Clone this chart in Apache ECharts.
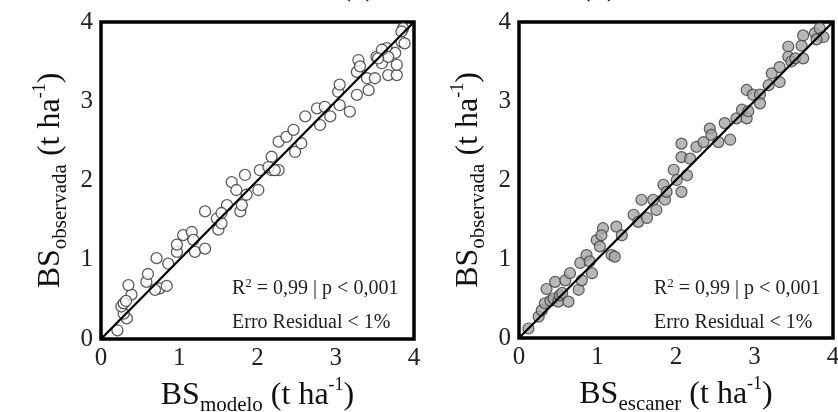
<!DOCTYPE html>
<html>
<head>
<meta charset="utf-8">
<script src="https://cdn.jsdelivr.net/npm/echarts@6/dist/echarts.min.js"></script>
<style>
  html, body { margin: 0; padding: 0; background: #fff; }
  #chart { width: 838px; height: 412px; }
</style>
</head>
<body>
<div id="chart"></div>
<script>
// painel (a): BS observada x BS modelo
var modeloX = [0.21,0.33,0.29,0.26,0.29,0.39,0.35,0.32,0.58,0.60,0.71,0.75,0.84,0.69,0.86,0.97,0.97,1.05,1.16,1.18,1.20,1.33,1.33,1.50,1.48,1.54,1.61,1.78,1.80,1.54,1.67,1.73,1.86,1.84,2.01,2.03,2.18,2.18,2.27,2.27,2.37,2.14,2.22,2.46,2.48,2.56,2.61,2.76,2.80,2.86,2.93,3.05,3.18,3.03,3.05,3.27,3.42,3.40,3.50,3.27,3.29,3.31,3.52,3.59,3.65,3.67,3.78,3.78,3.76,3.67,3.84,3.88,3.86,3.84,3.59,3.54];
var modeloY = [0.11,0.26,0.32,0.41,0.45,0.56,0.68,0.48,0.72,0.82,1.02,0.64,0.67,0.62,0.95,1.10,1.19,1.31,1.35,1.25,1.10,1.14,1.61,1.38,1.52,1.46,1.69,1.61,1.69,1.59,1.98,1.88,1.82,2.07,1.88,2.13,2.30,2.13,2.13,2.49,2.55,2.17,2.13,2.64,2.36,2.47,2.81,2.91,2.70,2.93,2.81,2.95,2.87,3.12,3.21,3.08,3.14,3.29,3.29,3.37,3.52,3.44,3.56,3.48,3.67,3.33,3.33,3.46,3.61,3.56,3.75,3.73,3.92,3.88,3.65,3.54];

// painel (b): BS observada x BS escaner
var escanerX = [0.12,0.25,0.29,0.33,0.35,0.40,0.44,0.46,0.50,0.52,0.55,0.63,0.59,0.65,0.76,0.78,0.80,0.86,0.90,0.93,0.99,1.03,1.07,1.05,1.18,1.22,1.24,1.31,1.46,1.52,1.63,1.75,1.86,1.56,1.71,1.84,1.88,1.97,2.01,2.07,2.14,2.07,2.18,2.07,2.26,2.35,2.43,2.45,2.54,2.62,2.69,2.77,2.84,2.90,2.92,2.90,2.98,3.07,3.07,3.18,3.22,3.32,3.32,3.43,3.43,3.47,3.52,3.62,3.60,3.62,3.77,3.83,3.88,3.79];
var escanerY = [0.12,0.27,0.35,0.44,0.62,0.47,0.50,0.71,0.46,0.54,0.57,0.46,0.73,0.82,0.61,0.95,0.73,1.05,0.97,0.82,1.24,1.16,1.39,1.30,1.05,1.03,1.41,1.30,1.56,1.47,1.52,1.62,1.75,1.75,1.75,1.94,1.85,2.13,2.00,1.85,2.06,2.29,2.27,2.46,2.42,2.48,2.65,2.57,2.48,2.72,2.51,2.78,2.89,2.78,2.87,3.14,3.08,3.08,2.97,3.20,3.35,3.24,3.43,3.69,3.56,3.50,3.54,3.54,3.70,3.83,3.86,3.92,3.81,3.78];

var linha1x1 = [[0, 0], [4, 4]];

function pares(xs, ys) {
  return xs.map(function (x, i) { return [x, ys[i]]; });
}

var serif = 'Liberation Serif';
var richTitulo = {
  a: { fontFamily: serif, fontSize: 32, lineHeight: 40, color: '#111' },
  b: { fontFamily: serif, fontSize: 21, lineHeight: 14, verticalAlign: 'bottom', color: '#111' },
  c: { fontFamily: serif, fontSize: 18, lineHeight: 16, verticalAlign: 'top', color: '#111' }
};

function eixo(gridIndex, nome, gap, margem) {
  return {
    gridIndex: gridIndex,
    type: 'value',
    min: 0, max: 4, interval: 1,
    splitLine: { show: false },
    axisLine: { show: false },
    axisTick: { show: false },
    axisLabel: { fontFamily: serif, fontSize: 25, color: '#222', margin: margem },
    name: nome,
    nameLocation: 'middle',
    nameGap: gap,
    nameTextStyle: { rich: richTitulo }
  };
}

var richNota = {
  r: { fontFamily: serif, fontSize: 20, color: '#222', lineHeight: 24 },
  s: { fontFamily: serif, fontSize: 13, color: '#222', lineHeight: 18, verticalAlign: 'top' }
};

function nota(x, y, txt) {
  return {
    type: 'text', left: x, top: y,
    style: { text: txt, rich: richNota, fill: '#222' }
  };
}

var chart = echarts.init(document.getElementById('chart'));
var option = {
  animation: false,
  grid: [
    { left: 101, top: 22, width: 313, height: 317, outerBoundsMode: 'none', show: true, borderColor: '#000', borderWidth: 3.5 },
    { left: 519, top: 22, width: 314, height: 316, outerBoundsMode: 'none', show: true, borderColor: '#000', borderWidth: 3.5 }
  ],
  xAxis: [
    eixo(0, '{a|BS}{b|modelo}{a| (t ha}{c|-1}{a|)}', 31, 7),
    eixo(1, '{a|BS}{b|escaner}{a| (t ha}{c|-1}{a|)}', 31, 7)
  ],
  yAxis: [
    eixo(0, '{a|BS}{b|observada}{a| (t ha}{c|-1}{a|)}', 30, 8),
    eixo(1, '{a|BS}{b|observada}{a| (t ha}{c|-1}{a|)}', 30, 8)
  ],
  graphic: [
    { type: 'text', right: 838 - 376, top: -29, style: { text: '(a)', font: '32px "Liberation Serif"', fill: '#111' } },
    { type: 'text', left: 580, top: -29, style: { text: '(b)', font: '32px "Liberation Serif"', fill: '#111' } },
    nota(232, 277, '{r|R}{s|2}{r| = 0,99 | p < 0,001}'),
    nota(232, 313, '{r|Erro Residual < 1%}'),
    nota(654, 277, '{r|R}{s|2}{r| = 0,99 | p < 0,001}'),
    nota(654, 313, '{r|Erro Residual < 1%}')
  ],
  series: [
    {
      type: 'scatter', xAxisIndex: 0, yAxisIndex: 0,
      data: pares(modeloX, modeloY),
      symbolSize: 11,
      itemStyle: { color: '#fff', borderColor: '#333', borderWidth: 1.3 }
    },
    {
      type: 'scatter', xAxisIndex: 1, yAxisIndex: 1,
      data: pares(escanerX, escanerY),
      symbolSize: 11,
      itemStyle: { color: '#a6a6a6', borderColor: '#3a3a3a', borderWidth: 1.2 }
    },
    {
      type: 'line', xAxisIndex: 0, yAxisIndex: 0, z: 5,
      data: linha1x1, symbol: 'none',
      lineStyle: { color: '#000', width: 2.2 }
    },
    {
      type: 'line', xAxisIndex: 1, yAxisIndex: 1, z: 5,
      data: linha1x1, symbol: 'none',
      lineStyle: { color: '#000', width: 2.2 }
    }
  ]
};
chart.setOption(option);
</script>
</body>
</html>
